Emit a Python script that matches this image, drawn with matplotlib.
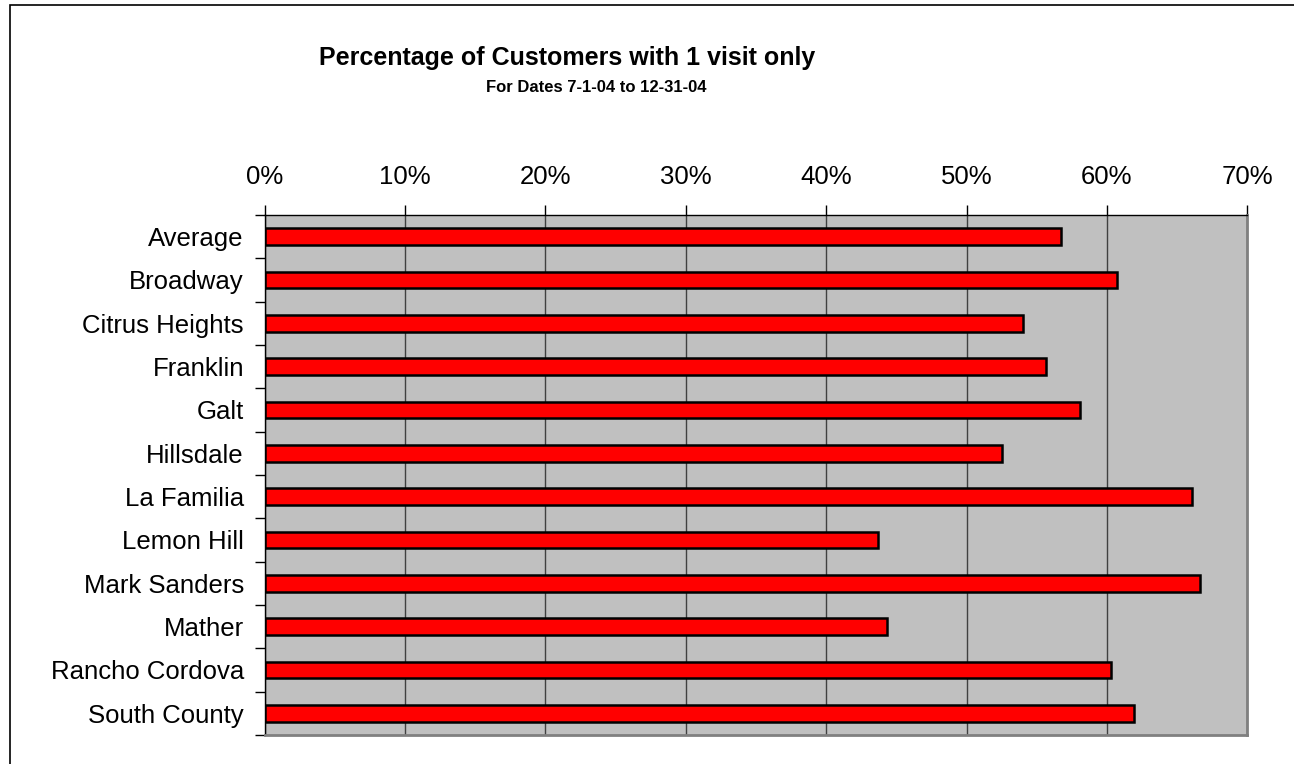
import matplotlib
matplotlib.use('Agg')
import matplotlib.pyplot as plt
from matplotlib.patches import Rectangle
from matplotlib.ticker import FixedLocator, FuncFormatter
import numpy as np

plt.rcParams['font.family'] = ['Liberation Sans', 'DejaVu Sans']

# 各站点只来访一次的顾客比例
sites = ['Average', 'Broadway', 'Citrus Heights', 'Franklin', 'Galt', 'Hillsdale',
         'La Familia', 'Lemon Hill', 'Mark Sanders', 'Mather', 'Rancho Cordova',
         'South County']
pct_one_visit = [56.7, 60.75, 54.0, 55.65, 58.05, 52.5,
                 66.05, 43.7, 66.65, 44.3, 60.3, 61.9]
x_ticks = [0, 10, 20, 30, 40, 50, 60, 70]

fig = plt.figure(figsize=(12.94, 7.64), dpi=100)
ax = fig.add_axes([0.2046, 0.0380, 0.7593, 0.6806])

y = np.arange(len(sites))
ax.barh(y, pct_one_visit, height=0.38, color='#FF0000', edgecolor='black',
        linewidth=1.8, zorder=3)

ax.set_facecolor('#C0C0C0')
ax.set_xlim(0, 70)
ax.set_ylim(len(sites) - 0.5, -0.5)

ax.xaxis.tick_top()
ax.set_xticks(x_ticks)
ax.xaxis.set_major_formatter(FuncFormatter(lambda v, p: '%d%%' % v))
ax.tick_params(axis='x', direction='out', length=7, width=1, pad=12,
               labelsize=18.5, color='black')
ax.grid(axis='x', color='#404040', linewidth=1, zorder=1)

ax.set_yticks(y)
ax.set_yticklabels(sites)
ax.tick_params(axis='y', which='major', length=0, pad=15, labelsize=18.5)
ax.yaxis.set_minor_locator(FixedLocator(np.arange(len(sites) + 1) - 0.5))
ax.tick_params(axis='y', which='minor', direction='out', length=7, width=1,
               color='black')

ax.spines['top'].set_color('black')
ax.spines['left'].set_color('black')
ax.spines['top'].set_linewidth(1)
ax.spines['left'].set_linewidth(1)
ax.spines['right'].set_color('#808080')
ax.spines['bottom'].set_color('#808080')
ax.spines['right'].set_linewidth(2)
ax.spines['bottom'].set_linewidth(2)

fig.text(567 / 1294, 1 - 58 / 764, 'Percentage of Customers with 1 visit only',
         ha='center', va='center', fontsize=18, fontweight='bold')
fig.text(596 / 1294, 1 - 88 / 764, 'For Dates 7-1-04 to 12-31-04',
         ha='center', va='center', fontsize=12, fontweight='bold')

# 外框（右边和下边在图外）
fig.patches.append(Rectangle((10 / 1294, -0.1), 1.2, 1.1 - 4.5 / 764,
                             transform=fig.transFigure, fill=False,
                             edgecolor='black', linewidth=1.2))

fig.savefig('out.png', dpi=100)
